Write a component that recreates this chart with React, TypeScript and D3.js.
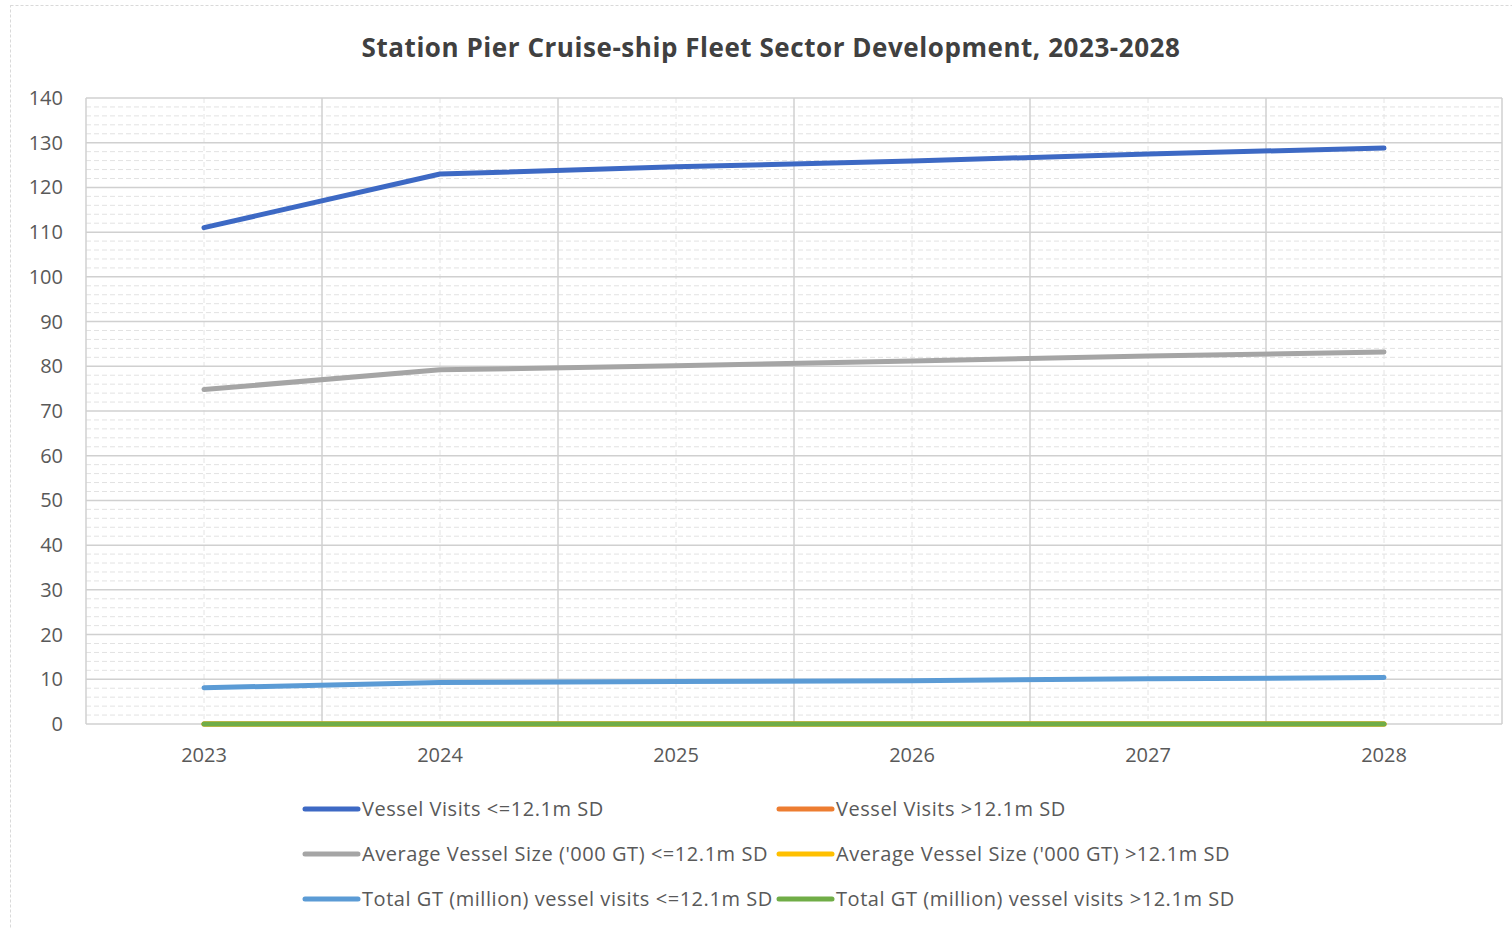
import { useMemo } from 'react'
import * as d3 from 'd3'

const YEARS = ['2023', '2024', '2025', '2026', '2027', '2028']
const Y_TICKS = [0, 10, 20, 30, 40, 50, 60, 70, 80, 90, 100, 110, 120, 130, 140]

const VISITS_SMALL = [111, 123, 124.6, 125.9, 127.5, 128.8]
const VISITS_LARGE = [0, 0, 0, 0, 0, 0]
const AVG_SIZE_SMALL = [74.8, 79.2, 80.1, 81.2, 82.3, 83.2]
const AVG_SIZE_LARGE = [0, 0, 0, 0, 0, 0]
const TOTAL_GT_SMALL = [8.1, 9.3, 9.5, 9.7, 10.1, 10.4]
const TOTAL_GT_LARGE = [0, 0, 0, 0, 0, 0]

const TITLE = 'Station Pier Cruise-ship Fleet Sector Development, 2023-2028'

const SERIES = [
  { label: 'Vessel Visits <=12.1m SD', values: VISITS_SMALL, color: '#3d69c4' },
  { label: 'Vessel Visits >12.1m SD', values: VISITS_LARGE, color: '#ed7d31' },
  { label: "Average Vessel Size ('000 GT) <=12.1m SD", values: AVG_SIZE_SMALL, color: '#a5a5a5' },
  { label: "Average Vessel Size ('000 GT) >12.1m SD", values: AVG_SIZE_LARGE, color: '#ffc000' },
  { label: 'Total GT (million) vessel visits <=12.1m SD', values: TOTAL_GT_SMALL, color: '#5b9bd5' },
  { label: 'Total GT (million) vessel visits >12.1m SD', values: TOTAL_GT_LARGE, color: '#70ad47' },
]

// draw order: green sits on top of the zero lines
const DRAW_ORDER = [1, 3, 5, 2, 4, 0]

const FONT = "'Open Sans', 'Noto Sans', sans-serif"

export default function App() {
  const width = 1512
  const height = 929
  const plot = { left: 86, right: 1502, top: 98, bottom: 724 }

  const x = useMemo(
    () => d3.scaleBand<string>().domain(YEARS).range([plot.left, plot.right]),
    [],
  )
  const y = useMemo(
    () => d3.scaleLinear().domain([0, 140]).range([plot.bottom, plot.top]),
    [],
  )
  const cx = (year: string) => (x(year) ?? 0) + x.bandwidth() / 2

  const line = d3
    .line<number>()
    .x((_, i) => cx(YEARS[i]))
    .y(v => y(v))

  const minorY = d3.range(0, 140, 2).filter(v => v % 10 !== 0)
  const boundaries = YEARS.map(year => x(year) ?? 0).concat(plot.right)

  return (
    <svg
      width={width}
      height={height}
      style={{ position: 'absolute', left: 0, top: 0, background: '#fff' }}
      fontFamily={FONT}
    >
      <rect x={10.5} y={5.5} width={width} height={height} fill="#fff" stroke="#d9d9d9" strokeDasharray="3 2" />

      <text x={771} y={57} textAnchor="middle" fontSize={26} fontWeight={700} fill="#404040" letterSpacing={0.55}>
        {TITLE}
      </text>

      {minorY.map(v => (
        <line key={`my-${v}`} x1={plot.left} x2={plot.right} y1={y(v)} y2={y(v)} stroke="#e2e2e2" strokeDasharray="5 3" />
      ))}
      {YEARS.map(year => (
        <line key={`mx-${year}`} x1={cx(year)} x2={cx(year)} y1={plot.top} y2={plot.bottom} stroke="#e4e4e4" strokeDasharray="5 3" />
      ))}
      {Y_TICKS.map(v => (
        <line key={`gy-${v}`} x1={plot.left} x2={plot.right} y1={y(v)} y2={y(v)} stroke="#d0d0d0" strokeWidth={1.5} />
      ))}
      {boundaries.map((bx, i) => (
        <line key={`gx-${i}`} x1={bx} x2={bx} y1={plot.top} y2={plot.bottom} stroke="#d0d0d0" strokeWidth={1.5} />
      ))}

      {Y_TICKS.map(v => (
        <text key={`yt-${v}`} x={63} y={y(v) + 7} textAnchor="end" fontSize={20} fill="#595959">
          {v}
        </text>
      ))}
      {YEARS.map(year => (
        <text key={`xt-${year}`} x={cx(year)} y={762} textAnchor="middle" fontSize={20} fill="#595959">
          {year}
        </text>
      ))}

      {DRAW_ORDER.map(i => {
        const s = SERIES[i]
        return (
          <path
            key={s.label}
            d={line(s.values) ?? ''}
            fill="none"
            stroke={s.color}
            strokeWidth={5}
            strokeLinecap="round"
            strokeLinejoin="round"
          />
        )
      })}

      {SERIES.map((s, i) => {
        const col = i % 2
        const row = Math.floor(i / 2)
        const lx = col === 0 ? 305 : 779
        const ly = 809 + row * 45
        return (
          <g key={`lg-${s.label}`}>
            <line x1={lx} x2={lx + 53} y1={ly} y2={ly} stroke={s.color} strokeWidth={5} strokeLinecap="round" />
            <text x={lx + 57} y={ly + 7} fontSize={20} fill="#595959" letterSpacing={0.55}>
              {s.label}
            </text>
          </g>
        )
      })}
    </svg>
  )
}
